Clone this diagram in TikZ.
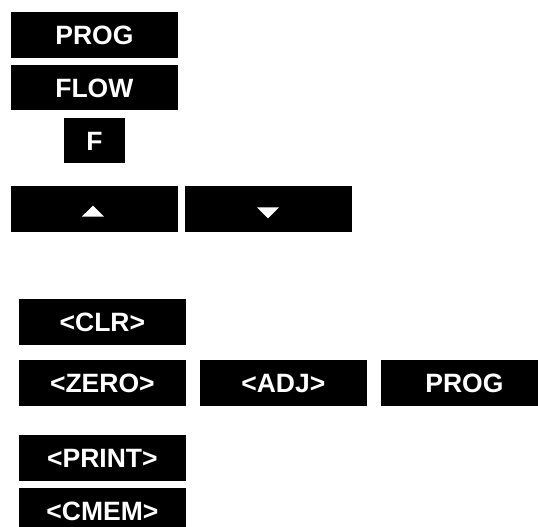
\documentclass[tikz,border=0pt]{standalone}
\usepackage{fontspec}
\setmainfont{Liberation Sans}
\usetikzlibrary{calc}
\tikzset{
  key/.style={fill=black, text=white, font=\bfseries\fontsize{26.5}{31}\selectfont,
    inner sep=0pt, text height=19pt, text depth=0pt, minimum height=45.5pt},
  widekey/.style={key, minimum width=166.7pt},
  glyph/.style={fill=white}
}
\begin{document}
\begin{tikzpicture}[x=1pt, y=-1pt]
  \useasboundingbox (0,0) rectangle (538,527);
  \clip (0,0) rectangle (538,527);

  % upper key group
  \node[widekey] (prog)  at (94.35,35)    {PROG};
  \node[widekey] (flow)  at (94.35,87.5)  {FLOW};
  \node[key, minimum width=61pt] (fkey) at (94.5,140.5) {F};

  % arrow keys
  \node[widekey] (up)   at (94.35,208.85)  {};
  \node[widekey] (down) at (268.35,208.85) {};
  \fill[glyph] ($(up.center)+(-12.65,7.85)$) -- ($(up.center)+(9.65,7.85)$)
               -- ($(up.center)+(-1.35,-3.15)$) -- cycle;
  \fill[glyph] ($(down.center)+(-11.35,-1.55)$) -- ($(down.center)+(10.65,-1.55)$)
               -- ($(down.center)+(-0.35,9.45)$) -- cycle;

  % lower key group
  \node[widekey] (clr)   at (102.35,322)    {<CLR>};
  \node[widekey] (zero)  at (102.35,382.85) {<ZERO>};
  \node[widekey] (adj)   at (283.35,382.85) {<ADJ>};
  \node[widekey] (prog2) at (464.35,382.85) {PROG};
  \node[widekey] (print) at (102.35,458)    {<PRINT>};
  \node[widekey] (cmem)  at (102.35,510.5)  {<CMEM>};
\end{tikzpicture}
\end{document}
